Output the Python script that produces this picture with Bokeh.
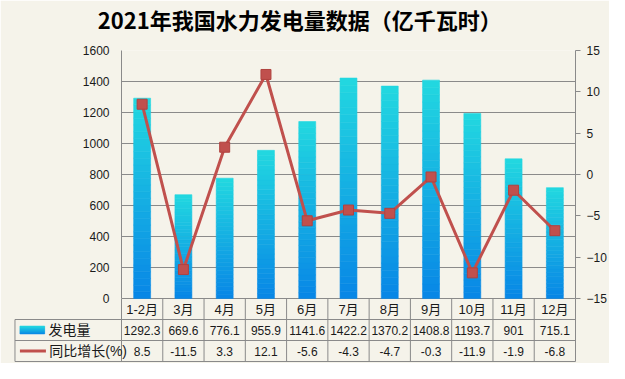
import numpy as np
from bokeh.plotting import figure
from bokeh.models import Range1d, LinearAxis, FixedTicker
from bokeh.core.properties import value
from bokeh.embed import file_html
from bokeh.resources import INLINE

# ---------------- data ----------------
months = ["1-2月", "3月", "4月", "5月", "6月", "7月", "8月", "9月", "10月", "11月", "12月"]
generation = [1292.3, 669.6, 776.1, 955.9, 1141.6, 1422.2, 1370.2, 1408.8, 1193.7, 901, 715.1]
growth = [8.5, -11.5, 3.3, 12.1, -5.6, -4.3, -4.7, -0.3, -11.9, -1.9, -6.8]
generation_labels = ["1292.3", "669.6", "776.1", "955.9", "1141.6", "1422.2", "1370.2", "1408.8", "1193.7", "901", "715.1"]
growth_labels = ["8.5", "-11.5", "3.3", "12.1", "-5.6", "-4.3", "-4.7", "-0.3", "-11.9", "-1.9", "-6.8"]
left_ticks = [0, 200, 400, 600, 800, 1000, 1200, 1400, 1600]
right_ticks = [-15, -10, -5, 0, 5, 10, 15]
series_names = ["发电量", "同比增长(%)"]
title_text = "2021年我国水力发电量数据（亿千瓦时）"

# ---------------- layout / style ----------------
W, H = 609, 363
FL, FR, FT = 121, 32, 50
CHART_PX = 248
ROW_PX = 21
TABLE_PX = ROW_PX * 3
FB = H - FT - CHART_PX - TABLE_PX
FRAME_W = W - FL - FR
n = len(months)
unit_px = FRAME_W / n
legend_w = 107 / unit_px

BG = "#f5f3ea"
GRID = "#8a8a8a"
RED = "#c0504d"
TXT = "#1a1a1a"
NUM_FONT = "Liberation Sans, Noto Sans CJK SC"
CJK_FONT = "Noto Sans CJK SC"

left_max = left_ticks[-1]
gen_lo = -left_max * TABLE_PX / CHART_PX
pct_lo = right_ticks[0] - (right_ticks[-1] - right_ticks[0]) * TABLE_PX / CHART_PX
tbl_hi = (CHART_PX + TABLE_PX) / ROW_PX

p = figure(width=W, height=H, x_range=Range1d(0, n), y_range=Range1d(gen_lo, left_max),
           output_backend="svg", toolbar_location=None, x_axis_location=None,
           min_border_left=FL, min_border_right=FR, min_border_top=FT, min_border_bottom=FB,
           background_fill_color=BG, border_fill_color=BG, outline_line_color=None)
p.extra_y_ranges = {"pct": Range1d(pct_lo, right_ticks[-1]), "tbl": Range1d(0, tbl_hi)}

# left axis
ya = p.yaxis[0]
ya.ticker = FixedTicker(ticks=left_ticks)
ya.bounds = (left_ticks[0], left_ticks[-1])
ya.axis_line_color = GRID
ya.major_tick_line_color = GRID
ya.major_tick_out = 0
ya.major_tick_in = 0
ya.minor_tick_line_color = None
ya.major_label_standoff = 12
ya.major_label_text_font = "Liberation Sans"
ya.major_label_text_font_size = "12px"
ya.major_label_text_color = TXT

# right axis
ra = LinearAxis(y_range_name="pct", ticker=FixedTicker(ticks=right_ticks),
                bounds=(right_ticks[0], right_ticks[-1]))
ra.axis_line_color = GRID
ra.major_tick_line_color = GRID
ra.major_tick_out = 5
ra.major_tick_in = 0
ra.minor_tick_line_color = None
ra.major_label_standoff = 6
ra.major_label_text_font = "Liberation Sans"
ra.major_label_text_font_size = "12px"
ra.major_label_text_color = TXT
p.add_layout(ra, "right")

p.ygrid.ticker = FixedTicker(ticks=left_ticks)
p.ygrid.grid_line_color = GRID
p.xgrid.grid_line_color = None

# ---------------- bars with vertical gradient ----------------
c_top = (0x22, 0xd8, 0xe0)
c_bot = (0x08, 0x86, 0xe6)
NS = 30
bx, bb, bt, bc = [], [], [], []
for i, v in enumerate(generation):
    for k in range(NS):
        t = (k + 0.5) / NS
        bx.append(i + 0.5)
        bb.append(v * k / NS)
        bt.append(v * (k + 1) / NS)
        rgb = tuple(round(b + (a - b) * t) for a, b in zip(c_top, c_bot))
        bc.append("#%02x%02x%02x" % rgb)
p.vbar(x=bx, bottom=bb, top=bt, width=0.41, fill_color=bc, line_color=bc, line_width=0.6)

# ---------------- growth line ----------------
xc = [i + 0.5 for i in range(n)]
p.line(x=xc, y=growth, y_range_name="pct", line_color=RED, line_width=3)
p.scatter(x=xc, y=growth, y_range_name="pct", marker="square", size=10,
          fill_color=RED, line_color="#b0423f")

# ---------------- data table ----------------
L0 = -legend_w
hx0 = [L0, L0, L0]
hx1 = [n, n, n]
hy = [0, 1, 2]
p.segment(x0=hx0, x1=hx1, y0=hy, y1=hy, y_range_name="tbl", line_color=GRID, line_width=1, level="overlay")
vx = [L0] + list(range(n + 1))
vy1 = [2] + [3] * (n + 1)
p.segment(x0=vx, x1=vx, y0=[0] * len(vx), y1=vy1, y_range_name="tbl", line_color=GRID, line_width=1, level="overlay")

p.text(x=xc, y=[2.5] * n, text=months, y_range_name="tbl", text_align="center", text_baseline="middle",
       text_font=value(NUM_FONT), text_font_size="13px", text_color=TXT, level="overlay")
p.text(x=xc, y=[1.5] * n, text=generation_labels, y_range_name="tbl", text_align="center", text_baseline="middle",
       text_font=value(NUM_FONT), text_font_size="12px", text_color=TXT, level="overlay")
p.text(x=xc, y=[0.5] * n, text=growth_labels, y_range_name="tbl", text_align="center", text_baseline="middle",
       text_font=value(NUM_FONT), text_font_size="12px", text_color=TXT, level="overlay")

# legend column
lx0, lx1 = L0 + 0.12, L0 + 0.72
NL = 8
lb, lt, lc = [], [], []
for k in range(NL):
    t = (k + 0.5) / NL
    lb.append(1.5 - 0.19 + 0.38 * k / NL)
    lt.append(1.5 - 0.19 + 0.38 * (k + 1) / NL)
    rgb = tuple(round(b + (a - b) * t) for a, b in zip(c_top, c_bot))
    lc.append("#%02x%02x%02x" % rgb)
p.quad(left=[lx0] * NL, right=[lx1] * NL, bottom=lb, top=lt, y_range_name="tbl",
       fill_color=lc, line_color=lc, line_width=0.5, level="overlay")
p.segment(x0=[lx0], x1=[lx1 + 0.03], y0=[0.5], y1=[0.5], y_range_name="tbl",
          line_color=RED, line_width=3, level="overlay")
p.scatter(x=[(lx0 + lx1 + 0.03) / 2], y=[0.5], y_range_name="tbl", marker="square", size=10,
          fill_color=RED, line_color="#b0423f", level="overlay")
p.text(x=[L0 + 0.81, L0 + 0.83], y=[1.5, 0.5], text=series_names, y_range_name="tbl",
       text_align="left", text_baseline="middle", text_font=value(NUM_FONT), text_font_size="14px",
       text_color=TXT, level="overlay")

# title (drawn as an unclipped text glyph above the frame)
title_x = (300 - FL) / unit_px
title_y = (H - FB - 18) / ROW_PX
p.text(x=[title_x], y=[title_y], text=[title_text], y_range_name="tbl",
       text_align="center", text_baseline="middle", text_font=value(CJK_FONT),
       text_font_size="22px", text_font_style="bold", text_color="#000000", level="overlay")

open("out.html", "w").write(file_html(p, INLINE))
